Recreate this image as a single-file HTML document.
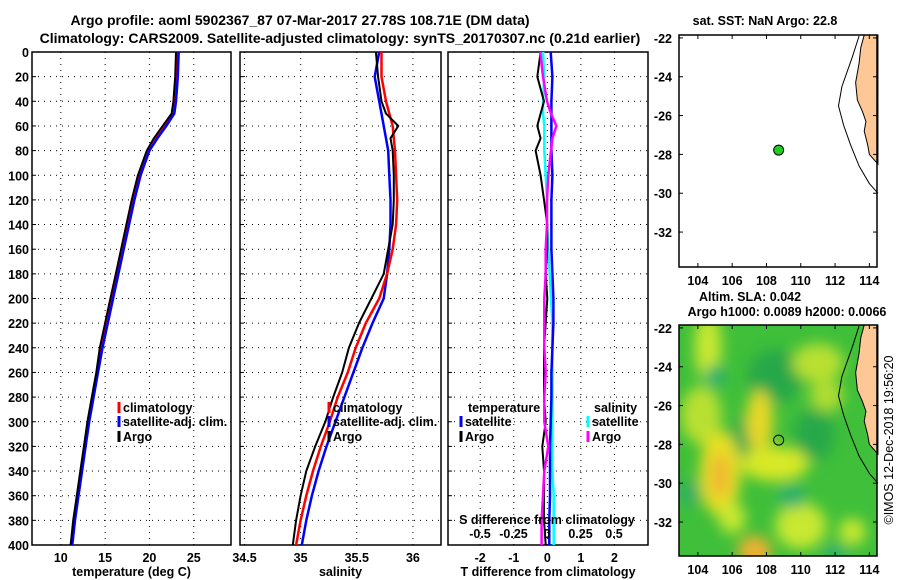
<!DOCTYPE html>
<html><head><meta charset="utf-8"><style>
body{margin:0;background:#fff;}
svg{display:block;font-family:"Liberation Sans",sans-serif;font-weight:bold;}
text{font-size:12.5px;fill:#000;}
</style></head><body>
<svg id="c" width="900" height="580" viewBox="0 0 900 580">
<defs>
<filter id="bl" x="-50%" y="-50%" width="200%" height="200%"><feGaussianBlur stdDeviation="7"/></filter>
<clipPath id="m2clip"><rect x="679" y="325" width="198" height="231"/></clipPath>
</defs>
<text x="300" y="25" text-anchor="middle" style="font-size:14px">Argo profile: aoml 5902367_87 07-Mar-2017 27.78S 108.71E (DM data)</text>
<text x="340" y="43" text-anchor="middle" style="font-size:14px">Climatology: CARS2009. Satellite-adjusted climatology: synTS_20170307.nc (0.21d earlier)</text>
<g id="g"></g>
</svg>
<script>
const depths=[0,20,40,50,60,70,80,100,120,140,160,180,200,220,240,260,280,300,320,340,360,380,400];
const tArgo=[23.0,22.9,22.7,22.5,21.5,20.5,19.7,18.7,18.0,17.4,16.8,16.2,15.6,15.0,14.4,14.0,13.5,13.0,12.6,12.2,11.8,11.4,11.1];
const tClim=[23.2,23.0,22.8,22.6,21.8,20.8,20.0,18.9,18.2,17.6,17.0,16.4,15.8,15.2,14.6,14.1,13.6,13.1,12.7,12.3,11.9,11.5,11.2];
const tSat=[23.3,23.2,23.0,22.8,21.9,20.9,20.0,19.0,18.3,17.7,17.1,16.5,15.9,15.3,14.7,14.2,13.7,13.2,12.8,12.4,12.0,11.6,11.3];
const sArgo=[35.67,35.69,35.72,35.76,35.87,35.80,35.82,35.83,35.83,35.82,35.78,35.74,35.63,35.52,35.43,35.37,35.29,35.22,35.13,35.05,35.00,34.96,34.93];
const sClim=[35.72,35.72,35.76,35.79,35.82,35.83,35.84,35.85,35.86,35.85,35.82,35.77,35.70,35.58,35.49,35.42,35.33,35.26,35.18,35.11,35.05,35.00,34.96];
const sSat=[35.70,35.66,35.70,35.72,35.74,35.76,35.78,35.79,35.80,35.80,35.79,35.77,35.74,35.64,35.55,35.47,35.39,35.31,35.23,35.16,35.10,35.05,35.01];
const dTArgo=[-0.2,-0.3,-0.1,-0.2,-0.3,-0.2,-0.35,-0.2,-0.1,0.0,0.0,-0.05,0.0,-0.05,-0.1,-0.1,-0.1,-0.05,-0.15,-0.1,-0.1,-0.1,-0.05];
const dTSat=[0.1,0.15,0.12,0.12,0.12,0.12,0.12,0.15,0.12,0.12,0.12,0.15,0.18,0.18,0.15,0.12,0.12,0.1,0.08,0.08,0.08,0.06,0.06];
const dSSat=[-0.03,-0.02,-0.03,-0.03,-0.02,-0.02,-0.02,-0.01,0.0,0.0,0.01,0.02,0.03,0.04,0.04,0.04,0.04,0.04,0.04,0.04,0.05,0.05,0.05];
const dSArgo=[-0.05,-0.03,0.0,0.03,0.07,0.04,0.03,0.01,0.0,0.0,-0.01,-0.01,-0.02,-0.02,-0.02,-0.01,-0.02,-0.02,0.01,-0.02,-0.03,-0.04,-0.04];
const tTicks=[10,15,20,25], sTicks=[34.5,35,35.5,36], dTicks=[-2,-1,0,1,2], dSTicks=["-0.5","-0.25","0","0.25","0.5"];
const depthTicks=[0,20,40,60,80,100,120,140,160,180,200,220,240,260,280,300,320,340,360,380,400];
const lonTicks=[104,106,108,110,112,114], latTicks=[-22,-24,-26,-28,-30,-32];
const argoLon=108.71, argoLat=-27.78;

const NS='http://www.w3.org/2000/svg', G=document.getElementById('g');
function el(t,a,p){const e=document.createElementNS(NS,t);for(const k in a)e.setAttribute(k,a[k]);(p||G).appendChild(e);return e;}
const Y=d=>52+d*(493/400);
function panel(x0,x1,lo,hi,name){const X=v=>x0+(v-lo)/(hi-lo)*(x1-x0);return {X,x0,x1,name};}
const P1=panel(32,231,6.75,29.2,'temperature'), P2=panel(240,441,34.46,36.25,'salinity'), P3=panel(448,648,-2.96,3.0,'difference');
function frame(P,ticks,lbl,xlabel,showY){
  const g=el('g',{});
  
  
  el('rect',{x:P.x0,y:52,width:P.x1-P.x0,height:493,fill:'#fff',stroke:'#000','stroke-width':1.5},g);
  ticks.forEach((t,i)=>{const x=P.X(t);
    el('line',{x1:x,x2:x,y1:52,y2:545,stroke:'#000','stroke-dasharray':'1,5','stroke-width':1},g);
    const tx=el('text',{x:x,y:562,'text-anchor':'middle'},g);tx.textContent=lbl[i];});
  depthTicks.forEach(d=>{const y=Y(d);
    el('line',{x1:P.x0,x2:P.x1,y1:y,y2:y,stroke:'#000','stroke-dasharray':'1,5','stroke-width':1},g);
    el('line',{x1:P.x0,x2:P.x0+4,y1:y,y2:y,stroke:'#000'},g);
    if(showY){const t=el('text',{x:P.x0-3,y:y+5,'text-anchor':'end'},g);t.textContent=d;}});
  const xl=el('text',{x:(P.x0+P.x1)/2,y:576,'text-anchor':'middle'},g);xl.textContent=xlabel;
  
  
}
function line(P,vals,col,w,name,X){
  X=X||P.X;
  const pts=vals.map((v,i)=>X(v).toFixed(1)+','+Y(depths[i]).toFixed(1)).join(' ');
  const p=el('polyline',{points:pts,fill:'none',stroke:col,'stroke-width':w,'stroke-linejoin':'round'});
  
  
}
frame(P1,tTicks,tTicks,'temperature (deg C)',true);
frame(P2,sTicks,sTicks,'salinity',false);
frame(P3,dTicks,dTicks,'T difference from climatology',false);
line(P1,tClim,'#f00',2.5,'temp-climatology-line');
line(P1,tSat,'#00f',2.5,'temp-satellite-line');
line(P1,tArgo,'#000',2,'temp-argo-line');
line(P2,sSat,'#00f',2.5,'sal-satellite-line');
line(P2,sClim,'#f00',2.5,'sal-climatology-line');
line(P2,sArgo,'#000',2,'sal-argo-line');
const XS=v=>547+v*134;
line(P3,dSSat,'#0ff',2.5,'sdiff-satellite-line',XS);
line(P3,dTSat,'#00f',2.5,'tdiff-satellite-line');
line(P3,dTArgo,'#000',2,'tdiff-argo-line');
line(P3,dSArgo,'#f0f',2.5,'sdiff-argo-line',XS);
const st=el('text',{x:547,y:524,'text-anchor':'middle'});st.textContent='S difference from climatology';

dSTicks.forEach(s=>{const t=el('text',{x:XS(+s),y:538,'text-anchor':'middle'});t.textContent=s;});
function leg(x,y,col,txt,name){
  el('line',{x1:x,x2:x,y1:y-10,y2:y+1,stroke:col,'stroke-width':3});
  const t=el('text',{x:x+4,y:y});t.textContent=txt;
  
}
[[P1,119],[P2,329]].forEach(([P,x],k)=>{
  leg(x,412,'#f00','climatology','legend-climatology-'+k);
  leg(x,426,'#00f','satellite-adj. clim.','legend-satellite-'+k);
  leg(x,441,'#000','Argo','legend-argo-'+k);
});
let t=el('text',{x:468,y:412});t.textContent='temperature';
leg(461,426,'#00f','satellite','legend-t-satellite');leg(461,441,'#000','Argo','legend-t-argo');
t=el('text',{x:594,y:412});t.textContent='salinity';
leg(588,426,'#0ff','satellite','legend-s-satellite');leg(588,441,'#f0f','Argo','legend-s-argo');

function mapAxes(top,bot,latTop,latBot,name){
  const MX=l=>679+(l-102.9)*17.15, MY=l=>top+(latTop-l)/(latTop-latBot)*(bot-top);
  const g=el('g',{});
  return {MX,MY,g};
}
const M1=mapAxes(35,267,-21.85,-33.8,'sst-map');
const M2=mapAxes(325,556,-21.85,-33.75,'sla-map');
el('rect',{x:679,y:325,width:198,height:231,fill:'#3fbf3a'},M2.g);
const fg=el('g',{'clip-path':'url(#m2clip)',filter:'url(#bl)'},M2.g);
const blobs=[[108.5,-24.5,1.6,1.4,'#28a848'],[106.8,-27.8,0.9,1.2,'#2aa850'],[110.8,-27.5,1.2,1.3,'#28a848'],[104.6,-23,0.8,1.8,'#c8e830'],[104.2,-26.5,1.2,1.5,'#b8e030'],[105.3,-29.5,1.2,2.2,'#e8e020'],[105.3,-29.6,0.6,1.2,'#f0b830'],[107.6,-26.8,0.8,1.6,'#e8d828'],[108.5,-29,2,0.9,'#d8e828'],[111,-23.8,1.5,1,'#b8e030'],[111.5,-25.5,1,0.8,'#b0dd30'],[110,-32.2,1.5,1.2,'#c8e830'],[107.3,-33.5,1,0.8,'#f0b030'],[113,-32.5,0.8,0.7,'#c8e830'],[106,-31.8,0.8,0.8,'#c8e830'],[109.5,-30.7,0.8,0.6,'#20b070'],[105,-24.5,0.6,0.6,'#20b070'],[103.5,-30.5,0.7,0.7,'#30b060'],[112,-33.6,0.8,0.4,'#20b070']];
blobs.forEach(b=>el('ellipse',{cx:M2.MX(b[0]),cy:M2.MY(b[1]),rx:b[2]*17,ry:b[3]*19.4,fill:b[4]},fg));
const coast=[[113.7,-21.85],[113.5,-22.5],[113.4,-23.3],[113.2,-24.3],[113.3,-25.2],[113.6,-25.8],[113.8,-26.3],[113.7,-26.8],[113.9,-27.5],[114.0,-28.0],[114.5,-28.5],[114.5,-21.85]];
const shelf=[[113.4,-21.9],[113.0,-23.0],[112.4,-24.5],[112.2,-25.5],[112.5,-26.5],[112.9,-27.5],[113.4,-28.6],[114.0,-29.5],[114.5,-30]];
[M1,M2].forEach((M,k)=>{
  const top=k?325:35,bot=k?556:267;
  if(!k) el('rect',{x:679,y:top,width:198,height:bot-top,fill:'#fff'},M.g);
  el('polygon',{points:coast.map(p=>M.MX(p[0])+','+M.MY(p[1])).join(' '),fill:'#fdc896',stroke:'#000','stroke-width':1},M.g);
  el('polyline',{points:shelf.map(p=>M.MX(p[0])+','+M.MY(p[1])).join(' '),fill:'none',stroke:'#000','stroke-width':1},M.g);
  el('rect',{x:679,y:top,width:198,height:bot-top,fill:'none',stroke:'#000','stroke-width':1.5},M.g);
  lonTicks.forEach(l=>{const x=M.MX(l);el('line',{x1:x,x2:x,y1:top,y2:top+4,stroke:'#000'},M.g);el('line',{x1:x,x2:x,y1:bot,y2:bot-4,stroke:'#000'},M.g);
    const t=el('text',{x:x,y:bot+18,'text-anchor':'middle'},M.g);t.textContent=l;});
  latTicks.forEach(l=>{const y=M.MY(l);el('line',{x1:679,x2:683,y1:y,y2:y,stroke:'#000'},M.g);el('line',{x1:877,x2:873,y1:y,y2:y,stroke:'#000'},M.g);
    const t=el('text',{x:672,y:y+5,'text-anchor':'end'},M.g);t.textContent=l;});
  const c=el('circle',{cx:M.MX(argoLon),cy:M.MY(argoLat),r:5,fill:k?'none':'#2c2',stroke:'#000','stroke-width':1},M.g);
  
});
t=el('text',{x:765,y:25,'text-anchor':'middle'});t.textContent='sat. SST: NaN Argo: 22.8';
t=el('text',{x:750,y:301,'text-anchor':'middle'});t.textContent='Altim. SLA: 0.042';
t=el('text',{x:787,y:316,'text-anchor':'middle'});t.textContent='Argo h1000: 0.0089 h2000: 0.0066';
t=el('text',{x:0,y:0,transform:'translate(893,440) rotate(-90)','text-anchor':'middle',style:'font-weight:normal;font-size:12.5px'});t.textContent='©IMOS 12-Dec-2018 19:56:20';

</script>
</body></html>
